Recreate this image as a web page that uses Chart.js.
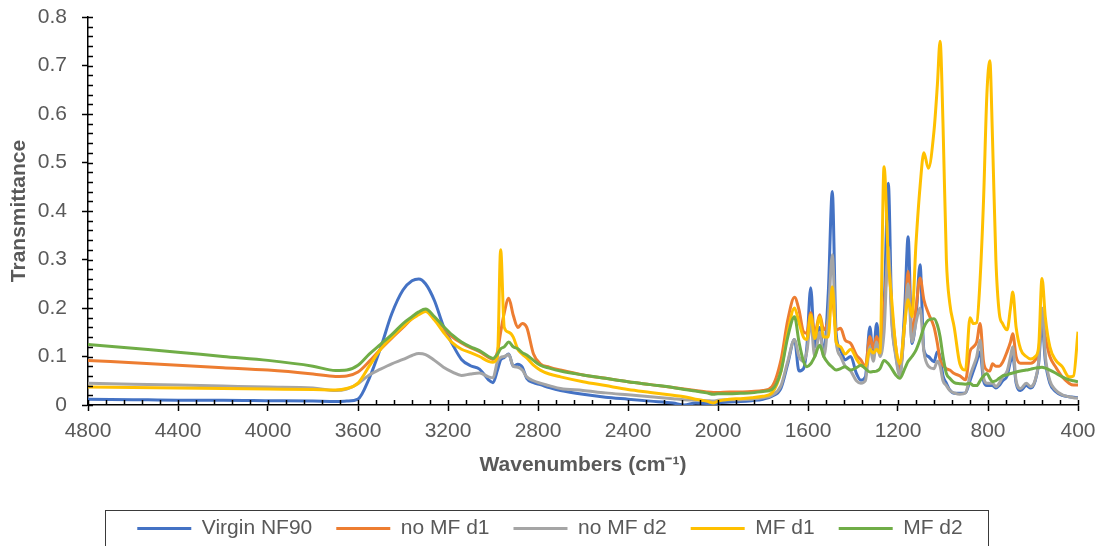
<!DOCTYPE html>
<html>
<head>
<meta charset="utf-8">
<title>FTIR spectra</title>
<script src="https://cdn.jsdelivr.net/npm/chart.js@4/dist/chart.umd.min.js"></script>
<style>
  html, body { margin: 0; padding: 0; background: #fff; }
  canvas { display: block; }
</style>
</head>
<body>
<canvas id="chart" width="1100" height="546"></canvas>
<script>
// wavenumbers (cm-1), shared by all five spectra
const wavenumbers = [
  4800, 4600, 4400, 4200, 4000, 3800, 3700, 3650, 3600, 3550,
  3500, 3450, 3400, 3360, 3330, 3300, 3260, 3220, 3180, 3140,
  3100, 3060, 3020, 3000, 2980, 2966, 2950, 2930, 2910, 2890,
  2870, 2850, 2820, 2790, 2750, 2700, 2600, 2500, 2400, 2300,
  2200, 2150, 2100, 2050, 2020, 2000, 1950, 1900, 1850, 1800,
  1760, 1720, 1690, 1660, 1640, 1620, 1605, 1588, 1570, 1548,
  1530, 1510, 1492, 1475, 1455, 1435, 1410, 1385, 1365, 1345,
  1325, 1310, 1295, 1280, 1262, 1243, 1228, 1210, 1192, 1170,
  1155, 1138, 1120, 1102, 1085, 1065, 1040, 1025, 1013, 1000,
  985, 970, 950, 925, 900, 880, 865, 850, 835, 820,
  805, 792, 780, 765, 750, 735, 715, 700, 690, 675,
  655, 630, 610, 590, 575, 560, 545, 525, 500, 470,
  440, 420, 400
];

const virginNF90 = [
  0.012, 0.011, 0.010, 0.010, 0.009, 0.008, 0.007, 0.008, 0.012, 0.055,
  0.117, 0.188, 0.237, 0.256, 0.260, 0.250, 0.215, 0.162, 0.125, 0.094,
  0.081, 0.074, 0.052, 0.046, 0.072, 0.093, 0.098, 0.105, 0.080, 0.084,
  0.078, 0.055, 0.046, 0.042, 0.036, 0.030, 0.022, 0.016, 0.012, 0.008,
  0.004, 0.000, 0.004, 0.003, 0.000, 0.004, 0.006, 0.007, 0.009, 0.012,
  0.018, 0.035, 0.085, 0.135, 0.070, 0.075, 0.120, 0.242, 0.120, 0.160,
  0.107, 0.230, 0.440, 0.148, 0.113, 0.093, 0.100, 0.065, 0.051, 0.058,
  0.161, 0.100, 0.168, 0.120, 0.200, 0.457, 0.189, 0.106, 0.065, 0.200,
  0.347, 0.127, 0.180, 0.289, 0.113, 0.100, 0.089, 0.110, 0.100, 0.060,
  0.045, 0.031, 0.024, 0.024, 0.025, 0.050, 0.070, 0.090, 0.110, 0.050,
  0.040, 0.040, 0.040, 0.035, 0.040, 0.050, 0.060, 0.090, 0.100, 0.045,
  0.030, 0.040, 0.035, 0.050, 0.085, 0.170, 0.090, 0.045, 0.028, 0.020,
  0.017, 0.016, 0.015
];

const noMFd1 = [
  0.092, 0.087, 0.082, 0.077, 0.072, 0.064, 0.059, 0.060, 0.068, 0.090,
  0.115, 0.138, 0.160, 0.178, 0.188, 0.195, 0.180, 0.160, 0.140, 0.128,
  0.118, 0.110, 0.098, 0.094, 0.110, 0.150, 0.190, 0.220, 0.185, 0.160,
  0.168, 0.160, 0.105, 0.085, 0.078, 0.072, 0.062, 0.055, 0.048, 0.042,
  0.036, 0.033, 0.030, 0.027, 0.026, 0.026, 0.027, 0.027, 0.028, 0.030,
  0.038, 0.093, 0.175, 0.222, 0.196, 0.151, 0.148, 0.190, 0.148, 0.186,
  0.155, 0.175, 0.220, 0.155, 0.158, 0.134, 0.127, 0.103, 0.093, 0.079,
  0.141, 0.117, 0.141, 0.120, 0.200, 0.300, 0.200, 0.120, 0.070, 0.170,
  0.276, 0.150, 0.200, 0.262, 0.217, 0.189, 0.161, 0.127, 0.093, 0.082,
  0.075, 0.072, 0.065, 0.060, 0.052, 0.110, 0.120, 0.130, 0.168, 0.090,
  0.072, 0.070, 0.085, 0.080, 0.080, 0.088, 0.110, 0.130, 0.147, 0.100,
  0.086, 0.086, 0.086, 0.093, 0.110, 0.182, 0.140, 0.100, 0.079, 0.058,
  0.045, 0.041, 0.041
];

const noMFd2 = [
  0.045, 0.043, 0.041, 0.039, 0.037, 0.035, 0.030, 0.033, 0.044, 0.062,
  0.074, 0.085, 0.094, 0.102, 0.106, 0.104, 0.092, 0.078, 0.068, 0.061,
  0.064, 0.066, 0.058, 0.056, 0.090, 0.098, 0.100, 0.104, 0.080, 0.078,
  0.072, 0.058, 0.050, 0.045, 0.040, 0.034, 0.030, 0.025, 0.021, 0.017,
  0.013, 0.011, 0.010, 0.009, 0.008, 0.010, 0.011, 0.011, 0.012, 0.015,
  0.020, 0.040, 0.090, 0.135, 0.100, 0.090, 0.110, 0.170, 0.100, 0.150,
  0.100, 0.180, 0.310, 0.130, 0.100, 0.080, 0.070, 0.050, 0.045, 0.050,
  0.120, 0.090, 0.130, 0.100, 0.150, 0.326, 0.170, 0.100, 0.060, 0.170,
  0.250, 0.130, 0.170, 0.200, 0.110, 0.080, 0.075, 0.090, 0.080, 0.050,
  0.040, 0.030, 0.025, 0.022, 0.025, 0.060, 0.080, 0.100, 0.134, 0.058,
  0.045, 0.045, 0.045, 0.038, 0.045, 0.058, 0.070, 0.100, 0.120, 0.050,
  0.034, 0.045, 0.038, 0.052, 0.090, 0.200, 0.100, 0.050, 0.031, 0.021,
  0.017, 0.015, 0.014
];

const mFd1 = [
  0.037, 0.036, 0.035, 0.034, 0.033, 0.032, 0.031, 0.034, 0.045, 0.080,
  0.115, 0.140, 0.162, 0.178, 0.186, 0.193, 0.175, 0.150, 0.128, 0.115,
  0.108, 0.100, 0.090, 0.088, 0.100, 0.320, 0.160, 0.150, 0.140, 0.115,
  0.105, 0.097, 0.082, 0.072, 0.064, 0.058, 0.048, 0.040, 0.032, 0.026,
  0.020, 0.017, 0.012, 0.008, 0.004, 0.008, 0.012, 0.013, 0.015, 0.018,
  0.025, 0.070, 0.150, 0.200, 0.170, 0.140, 0.135, 0.186, 0.137, 0.182,
  0.140, 0.140, 0.244, 0.130, 0.120, 0.105, 0.115, 0.095, 0.082, 0.078,
  0.115, 0.107, 0.115, 0.107, 0.491, 0.300, 0.217, 0.120, 0.085, 0.168,
  0.217, 0.182, 0.333, 0.450, 0.520, 0.488, 0.565, 0.660, 0.750, 0.580,
  0.300, 0.210, 0.160, 0.085, 0.072, 0.180, 0.168, 0.170, 0.260, 0.420,
  0.640, 0.710, 0.550, 0.300, 0.190, 0.168, 0.155, 0.200, 0.233, 0.160,
  0.115, 0.100, 0.095, 0.100, 0.120, 0.261, 0.180, 0.120, 0.093, 0.079,
  0.058, 0.060, 0.151
];

const mFd2 = [
  0.125, 0.117, 0.109, 0.100, 0.092, 0.080, 0.071, 0.072, 0.082, 0.105,
  0.125, 0.145, 0.168, 0.182, 0.192, 0.198, 0.182, 0.162, 0.144, 0.130,
  0.120, 0.112, 0.100, 0.096, 0.105, 0.116, 0.120, 0.130, 0.120, 0.116,
  0.108, 0.103, 0.092, 0.082, 0.076, 0.070, 0.062, 0.055, 0.048, 0.042,
  0.036, 0.032, 0.029, 0.025, 0.022, 0.023, 0.023, 0.024, 0.025, 0.028,
  0.032, 0.070, 0.140, 0.182, 0.130, 0.090, 0.079, 0.085, 0.100, 0.123,
  0.100, 0.086, 0.078, 0.072, 0.075, 0.079, 0.072, 0.077, 0.082, 0.075,
  0.068, 0.069, 0.070, 0.075, 0.092, 0.085, 0.075, 0.062, 0.055, 0.075,
  0.090, 0.100, 0.113, 0.135, 0.160, 0.175, 0.178, 0.165, 0.141, 0.100,
  0.065, 0.055, 0.046, 0.044, 0.043, 0.045, 0.040, 0.040, 0.050, 0.060,
  0.065, 0.055, 0.048, 0.050, 0.055, 0.060, 0.062, 0.065, 0.066, 0.068,
  0.070, 0.072, 0.074, 0.076, 0.077, 0.078, 0.076, 0.072, 0.066, 0.058,
  0.052, 0.050, 0.048
];

const seriesNames = ["Virgin NF90", "no MF d1", "no MF d2", "MF d1", "MF d2"];
const seriesValues = [virginNF90, noMFd1, noMFd2, mFd1, mFd2];
const seriesColors = ["#4472C4", "#ED7D31", "#A5A5A5", "#FFC000", "#70AD47"];

const xMin = 400, xMax = 4800, xMajor = 400, xMinor = 80;
const yMin = 0, yMax = 0.8, yMajor = 0.1, yMinor = 0.02;

const textColor = "#595959";
const fontFamily = "'Liberation Sans', Arial, sans-serif";

// inner half of the major ticks plus the minor ticks (Excel style)
const innerTicks = {
  id: "innerTicks",
  afterDraw(chart) {
    const { ctx, scales: { x, y } } = chart;
    ctx.save();
    ctx.strokeStyle = "#000";
    ctx.lineWidth = 1.5;
    ctx.beginPath();
    const nx = Math.round((xMax - xMin) / xMinor);
    for (let i = 0; i <= nx; i++) {
      const px = Math.round(x.getPixelForValue(xMin + i * xMinor)) + 0.5;
      ctx.moveTo(px, y.bottom);
      ctx.lineTo(px, y.bottom - 5);
    }
    const ny = Math.round((yMax - yMin) / yMinor);
    for (let i = 0; i <= ny; i++) {
      const py = Math.round(y.getPixelForValue(yMin + i * yMinor)) + 0.5;
      ctx.moveTo(x.left, py);
      ctx.lineTo(x.left + 5, py);
    }
    ctx.stroke();
    ctx.restore();
  }
};

// frame round the legend
const legendFrame = {
  id: "legendFrame",
  afterDraw(chart) {
    const legend = chart.legend;
    if (!legend || !legend.legendHitBoxes.length) return;
    const boxes = legend.legendHitBoxes;
    const left = Math.min(...boxes.map((b) => b.left)) - 32;
    const right = Math.max(...boxes.map((b) => b.left + b.width)) + 26;
    const top = boxes[0].top - 8;
    const { ctx } = chart;
    ctx.save();
    ctx.strokeStyle = "#3a3a3a";
    ctx.lineWidth = 1;
    ctx.strokeRect(Math.round(left) + 0.5, Math.round(top) + 0.5, Math.round(right - left), chart.height);
    ctx.restore();
  }
};

const datasets = seriesNames.map((name, i) => ({
  label: name,
  data: wavenumbers.map((wn, j) => ({ x: wn, y: seriesValues[i][j] })),
  borderColor: seriesColors[i],
  backgroundColor: seriesColors[i],
  borderWidth: 3,
  pointRadius: 0,
  cubicInterpolationMode: "monotone",
  order: seriesNames.length - i
}));

new Chart(document.getElementById("chart"), {
  type: "line",
  data: { datasets },
  options: {
    responsive: false,
    animation: false,
    devicePixelRatio: 1,
    layout: { padding: { top: 17, right: 0, left: 0, bottom: -3 } },
    plugins: {
      tooltip: { enabled: false },
      legend: {
        position: "bottom",
        labels: {
          usePointStyle: true,
          pointStyle: "line",
          pointStyleWidth: 54,
          padding: 24,
          color: textColor,
          font: { family: fontFamily, size: 21 },
          sort: (a, b) => a.datasetIndex - b.datasetIndex
        }
      }
    },
    scales: {
      x: {
        type: "linear",
        reverse: true,
        min: xMin,
        max: xMax,
        afterFit(scale) {
          scale.height = 89;
          scale.paddingRight = 22;
        },
        grid: { drawOnChartArea: false, drawTicks: true, tickLength: 6, tickColor: "#000", tickWidth: 1.5 },
        border: { color: "#000", width: 1.5 },
        ticks: {
          stepSize: xMajor,
          autoSkip: false,
          maxRotation: 0,
          padding: 8,
          color: textColor,
          font: { family: fontFamily, size: 21 },
          callback: (v) => String(v)
        },
        title: {
          display: true,
          text: "Wavenumbers (cm\u207B\u00B9)",
          color: textColor,
          font: { family: fontFamily, size: 21, weight: "bold" },
          padding: { top: 0, bottom: 16 }
        }
      },
      y: {
        min: yMin,
        max: yMax,
        afterFit(scale) {
          scale.width = 88;
          scale.paddingTop = 0;
        },
        grid: { drawOnChartArea: false, drawTicks: true, tickLength: 6, tickColor: "#000", tickWidth: 1.5 },
        border: { color: "#000", width: 1.5 },
        ticks: {
          stepSize: yMajor,
          padding: 15,
          color: textColor,
          font: { family: fontFamily, size: 21 },
          callback: (v) => (v === 0 ? "0" : v.toFixed(1))
        },
        title: {
          display: true,
          text: "Transmittance",
          color: textColor,
          font: { family: fontFamily, size: 21, weight: "bold" },
          padding: { top: 7, bottom: 0 }
        }
      }
    }
  },
  plugins: [innerTicks, legendFrame]
});
</script>
</body>
</html>
